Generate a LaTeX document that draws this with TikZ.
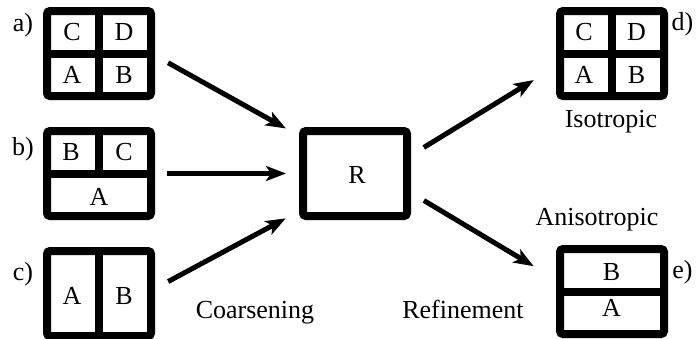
\documentclass[tikz,border=0pt]{standalone}
\usepackage{fontspec}
\setmainfont{Liberation Serif}
\usetikzlibrary{arrows.meta,positioning}
\tikzstyle{mesh} = [rectangle, draw, line width=8pt, rounded corners=3pt, minimum width=104pt, minimum height=85pt, inner sep=0pt, outer sep=4pt]
\tikzstyle{split} = [line width=8pt]
\tikzstyle{arrow} = [line width=5pt, -{Stealth[length=20pt,width=15pt,inset=5pt]}, shorten <=15pt, shorten >=15pt]
\tikzstyle{lbl} = [inner sep=0pt]

\begin{document}
\begin{tikzpicture}[x=1pt, y=-1pt, font=\fontsize{26}{30}\selectfont]
\useasboundingbox (0,0) rectangle (697,338);

% Coarsening side
\node[mesh] (a) at (99,53.5) {};
\draw[split] (a.north) -- (a.south);
\draw[split] (a.west) -- (a.east);
\node[lbl] (a_c) at (72,32) {C};
\node[lbl] (a_d) at (124,32) {D};
\node[lbl] (a_a) at (72,75) {A};
\node[lbl] (a_b) at (124,75) {B};
\node[lbl, anchor=base] (lab_a) at (23,31) {a)};

\node[mesh] (b) at (99,173.5) {};
\draw[split] (b.north) -- (b.center);
\draw[split] (b.west) -- (b.east);
\node[lbl] (b_b) at (71,152.5) {B};
\node[lbl] (b_c) at (124,152.5) {C};
\node[lbl] (b_a) at (99,197) {A};
\node[lbl, anchor=base] (lab_b) at (23,155) {b)};

\node[mesh] (c) at (99,293.5) {};
\draw[split] (c.north) -- (c.south);
\node[lbl] (c_a) at (72,296) {A};
\node[lbl] (c_b) at (124,296) {B};
\node[lbl, anchor=base] (lab_c) at (23,280) {c)};

% Coarse cell
\node[mesh] (r) at (355,173.5) {};
\node[lbl] (r_r) at (357,175) {R};

\draw[arrow] (a.-2) -- (r.146);
\draw[arrow, shorten <=12pt, shorten >=13pt] (b.east) -- (r.west);
\draw[arrow] (c.5) -- (r.214);
\node[lbl, anchor=base] (coarse) at (255,318) {Coarsening};

% Refinement side
\node[mesh] (d) at (612,53.5) {};
\draw[split] (d.north) -- (d.south);
\draw[split] (d.west) -- (d.east);
\node[lbl] (d_c) at (584,32) {C};
\node[lbl] (d_d) at (636.5,32) {D};
\node[lbl] (d_a) at (584,75) {A};
\node[lbl] (d_b) at (636.5,75) {B};
\node[lbl, anchor=base] (lab_d) at (682.5,30) {d)};
\node[lbl, anchor=base] (iso) at (611,127) {Isotropic};

\node[mesh] (e) at (612,291.5) {};
\draw[split] (e.west) -- (e.east);
\node[lbl] (e_b) at (611.5,272.5) {B};
\node[lbl] (e_a) at (611.5,307.5) {A};
\node[lbl, anchor=base] (lab_e) at (682.5,278) {e)};
\node[lbl, anchor=base] (aniso) at (597,225) {Anisotropic};

\draw[arrow, shorten >=26pt] (r.18) -- (d.193);
\draw[arrow, shorten >=26pt] (r.-19) -- (e.168);
\node[lbl, anchor=base] (refine) at (463,318) {Refinement};
\end{tikzpicture}
\end{document}
